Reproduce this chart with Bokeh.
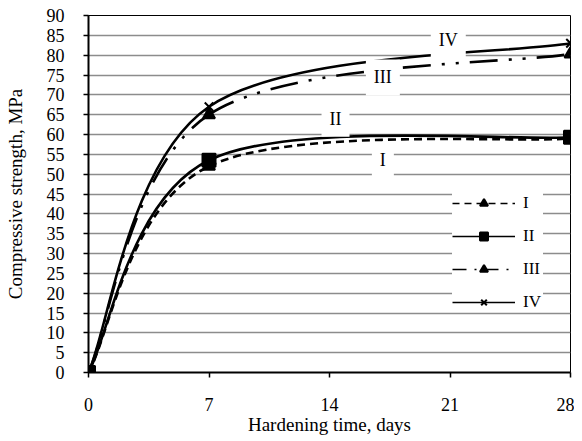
import numpy as np
from bokeh.plotting import figure
from bokeh.models import Range1d, FixedTicker, Label, Legend, LegendItem, ColumnDataSource
from bokeh.embed import file_html
from bokeh.resources import INLINE

days = [0, 7, 28]
s_I = [0, 52.0, 59.0]
s_II = [0, 53.5, 59.3]
s_III = [0, 65.0, 80.3]
s_IV = [0, 67.0, 83.0]
series_names = ["I", "II", "III", "IV"]
x_ticks = [0, 7, 14, 21, 28]
y_ticks = list(range(0, 95, 5))

# curve label anchors (data coords)
lab_x = [17.1, 14.35, 17.1, 20.9]
lab_y = [53.5, 64.0, 74.4, 83.7]

FONT = "'Liberation Serif', 'Times New Roman', serif"

def bezier_source(xs, ys):
    """Excel-style smoothed line: cubic Bezier segments through the data points."""
    P = np.column_stack([xs, ys]).astype(float)
    n = len(P)
    x0, y0, x1, y1, cx0, cy0, cx1, cy1 = ([] for _ in range(8))
    for i in range(n - 1):
        prev = P[i - 1] if i > 0 else P[i]
        nxt = P[i + 2] if i + 2 < n else P[i + 1]
        c0 = P[i] + (P[i + 1] - prev) / 6.0
        c1 = P[i + 1] - (nxt - P[i]) / 6.0
        x0.append(P[i][0]); y0.append(P[i][1])
        x1.append(P[i + 1][0]); y1.append(P[i + 1][1])
        cx0.append(c0[0]); cy0.append(c0[1])
        cx1.append(c1[0]); cy1.append(c1[1])
    return ColumnDataSource(dict(x0=x0, y0=y0, x1=x1, y1=y1, cx0=cx0, cy0=cy0, cx1=cx1, cy1=cy1))

p = figure(width=574, height=441, x_range=Range1d(0, 28), y_range=Range1d(0, 90),
           output_backend="svg", toolbar_location=None,
           min_border_left=88, min_border_right=4, min_border_top=15, min_border_bottom=69)
p.background_fill_color = "white"
p.border_fill_color = "white"
p.outline_line_color = "black"
p.outline_line_width = 1

p.xgrid.visible = False
p.ygrid.grid_line_color = "#8c8c8c"
p.ygrid.grid_line_width = 1.6

p.xaxis.ticker = FixedTicker(ticks=x_ticks)
p.yaxis.ticker = FixedTicker(ticks=y_ticks)
for ax in (p.xaxis[0], p.yaxis[0]):
    ax.axis_line_color = "black"
    ax.axis_line_width = 2
    ax.major_tick_line_color = "black"
    ax.major_tick_line_width = 1.5
    ax.major_tick_out = 5
    ax.major_tick_in = 0
    ax.minor_tick_line_color = None
    ax.major_label_text_font = FONT
    ax.major_label_text_font_size = "18px"
    ax.major_label_text_color = "black"
    ax.axis_label_text_font = FONT
    ax.axis_label_text_font_size = "19px"
    ax.axis_label_text_font_style = "normal"
    ax.axis_label_text_color = "black"

p.xaxis.axis_label = "Hardening time, days"
p.yaxis.axis_label = "Compressive strength, MPa"
p.xaxis.major_label_standoff = 20
p.xaxis.axis_label_standoff = 0
p.yaxis.major_label_standoff = 19
p.yaxis.axis_label_standoff = 18

styles = {
    "I": dict(line_dash="8 5", marker="triangle", size=12),
    "II": dict(line_dash="solid", marker="square", size=13),
    "III": dict(line_dash="28 11 3 11 3 11", marker="triangle", size=12),
    "IV": dict(line_dash="solid", marker="x", size=12),
}
legend_dash = {"I": "7 5", "II": "solid", "III": "14 8 2 8", "IV": "solid"}
data = {"I": s_I, "II": s_II, "III": s_III, "IV": s_IV}

items = []
for name in series_names:
    st = styles[name]
    src = bezier_source(days, data[name])
    p.bezier(x0="x0", y0="y0", x1="x1", y1="y1", cx0="cx0", cy0="cy0", cx1="cx1", cy1="cy1",
             source=src, line_color="black", line_width=2.6, line_dash=st["line_dash"])
    sc = p.scatter(days, data[name], marker=st["marker"], size=st["size"],
                   fill_color="black", line_color="black", line_width=2)
    # single-point line: draws nothing in the plot, only supplies the legend's line glyph
    lg_line = p.line(x=days[:1], y=data[name][:1], line_color="black", line_width=1.6,
                     line_dash=legend_dash[name])
    items.append(LegendItem(label=name, renderers=[lg_line, sc]))

legend = Legend(items=items, location=(364, 60), background_fill_color="white",
                background_fill_alpha=1.0, border_line_color=None,
                glyph_width=63, glyph_height=20, label_height=20, spacing=13,
                padding=15, margin=0, label_standoff=8,
                label_text_font=FONT, label_text_font_size="17px", label_text_color="black")
p.add_layout(legend, "center")

for name, lx, ly in zip(series_names, lab_x, lab_y):
    p.add_layout(Label(x=lx, y=ly, text=name, text_font=FONT, text_font_size="18px",
                       text_color="black", text_align="center", text_baseline="middle",
                       background_fill_color="white", padding=8))

open("out.html", "w").write(file_html(p, INLINE))
